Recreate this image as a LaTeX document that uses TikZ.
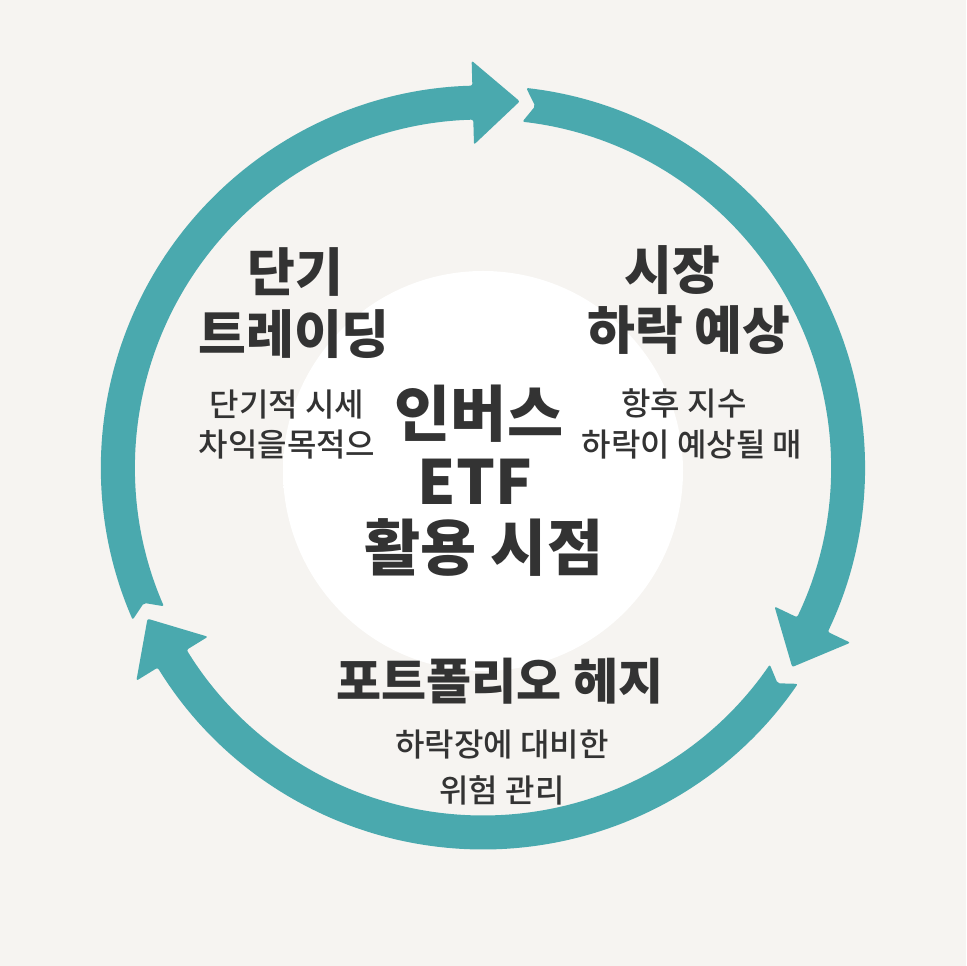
\documentclass[tikz,border=0pt]{standalone}
\usepackage{fontspec}
\setmainfont{Noto Sans CJK KR}
\newfontfamily\krmed{Noto Sans CJK KR Medium}
\usetikzlibrary{calc}
\definecolor{bgc}{HTML}{F6F4F1}
\definecolor{ringc}{HTML}{4AA9AE}
\definecolor{txtc}{HTML}{333333}
\pgfdeclareradialshading{glow}{\pgfpoint{0bp}{0bp}}{color(0bp)=(white); color(38bp)=(white); color(50bp)=(bgc)}
\newcommand\arcseg[2]{%
  \pgfmathsetmacro\tanga{#2-90}%
  \pgfmathsetmacro\tangb{#1-90}%
  \fill[ringc, rounded corners=2pt] (#1:382pt) arc[start angle=#1, end angle=#2, radius=382pt]
    -- (#2:407pt) -- ($(#2:365pt)+(\tanga:47pt)$) -- (#2:323pt) -- (#2:348pt)
    arc[start angle=#2, end angle=#1, radius=348pt]
    -- ($(#1:365pt)+(\tangb:11pt)$) -- cycle;
}
\tikzset{
  title/.style={text=txtc, font=\fontsize{52pt}{56pt}\selectfont\bfseries, inner sep=0pt, anchor=center},
  ctitle/.style={text=txtc, font=\fontsize{61pt}{64pt}\selectfont\bfseries, inner sep=0pt, anchor=center},
  btitle/.style={text=txtc, font=\fontsize{49pt}{52pt}\selectfont\bfseries, inner sep=0pt, anchor=center},
  sub/.style={text=txtc, font=\krmed\fontsize{32pt}{36pt}\selectfont, inner sep=0pt, anchor=center},
}
\begin{document}
\begin{tikzpicture}[x=1pt,y=1pt]
\useasboundingbox (0,0) rectangle (966,966);
\fill[bgc] (0,0) rectangle (966,966);
\shade[shading=glow] (483,495) circle (200pt);
\begin{scope}[shift={(483,498.5)}]
  \arcseg{83.5}{-25.5}
  \arcseg{-34.5}{-148.4}
  \arcseg{203.5}{91.6}
\end{scope}
% left
\node[title] (l1) at (295,694) {단기};
\node[title] (l2) at (294,632) {트레이딩};
\node[sub] (l3) at (287,561) {단기적 시세};
\node[sub] (l4) at (287,521) {차익을목적으};
% right
\node[title] (r1) at (672,696) {시장};
\node[title] (r2) at (689,636) {하락 예상};
\node[sub] (r3) at (684,563) {항후 지수};
\node[sub] (r4) at (692,521) {하락이 예상될 매};
% center
\node[ctitle] (c1) at (479,552) {인버스};
\node[ctitle] (c2) at (475,484) {ETF};
\node[ctitle] (c3) at (484,418) {활용 시점};
% bottom
\node[btitle] (b1) at (500,285) {포트폴리오 헤지};
\node[sub] (b2) at (502,221) {하락장에 대비한};
\node[sub] (b3) at (502,176) {위험 관리};
\end{tikzpicture}
\end{document}
